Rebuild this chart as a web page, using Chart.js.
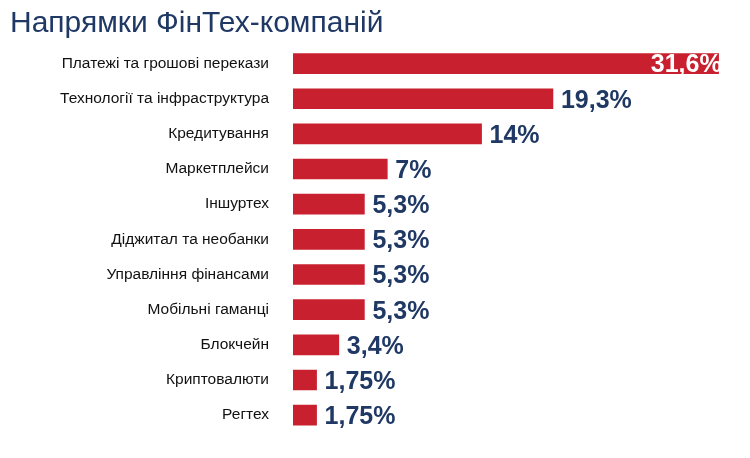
<html>
<head>
  <script src="https://cdn.jsdelivr.net/npm/chart.js"></script>
  <style>
    body { margin: 0; background: #fff; }
    #wrap { width: 750px; height: 458px; }
  </style>
</head>
<body>
  <div id="wrap"><canvas id="chart"></canvas></div>
  <script>
    const categories = ['Платежі та грошові перекази', 'Технології та інфраструктура', 'Кредитування',
      'Маркетплейси', 'Іншуртех', 'Діджитал та необанки', 'Управління фінансами',
      'Мобільні гаманці', 'Блокчейн', 'Криптовалюти', 'Регтех'];
    const values = [31.6, 19.3, 14, 7, 5.3, 5.3, 5.3, 5.3, 3.4, 1.75, 1.75];
    const valueLabels = ['31,6%', '19,3%', '14%', '7%', '5,3%', '5,3%', '5,3%', '5,3%', '3,4%', '1,75%', '1,75%'];

    // підписи значень біля кінців стовпчиків
    const valueLabelPlugin = {
      id: 'valueLabels',
      afterDatasetsDraw(chart) {
        const ctx = chart.ctx;
        const meta = chart.getDatasetMeta(0);
        ctx.save();
        ctx.font = 'bold 25px "Liberation Sans", Arial, sans-serif';
        ctx.textBaseline = 'middle';
        meta.data.forEach((bar, i) => {
          if (i === 0) {
            ctx.fillStyle = '#ffffff';
            ctx.textAlign = 'right';
            ctx.fillText(valueLabels[i], bar.x + 3, bar.y + 2);
          } else {
            ctx.fillStyle = '#1f3864';
            ctx.textAlign = 'left';
            ctx.fillText(valueLabels[i], bar.x + 8, bar.y + 2);
          }
        });
        ctx.restore();
      }
    };

    new Chart(document.getElementById('chart'), {
      type: 'bar',
      data: {
        labels: categories,
        datasets: [{
          data: values,
          backgroundColor: '#c8202f',
          barThickness: 20
        }]
      },
      options: {
        indexAxis: 'y',
        responsive: true,
        maintainAspectRatio: false,
        animation: false,
        layout: { padding: { left: 10, right: 26, top: 0, bottom: 0 } },
        scales: {
          x: { display: false, min: 0, max: 32 },
          y: {
            grid: { display: false },
            border: { display: false },
            afterFit(scale) { scale.width = 283; },
            ticks: {
              color: '#111111',
              padding: 16,
              font: { family: '"Liberation Sans", Arial, sans-serif', size: 15.5 }
            }
          }
        },
        plugins: {
          legend: { display: false },
          tooltip: { enabled: false },
          title: {
            display: true,
            text: 'Напрямки ФінТех-компаній',
            align: 'start',
            color: '#1f3864',
            font: { family: '"Liberation Sans", Arial, sans-serif', size: 30, weight: 'normal' },
            padding: { top: 6, bottom: 4 }
          }
        }
      },
      plugins: [valueLabelPlugin]
    });
  </script>
</body>
</html>
